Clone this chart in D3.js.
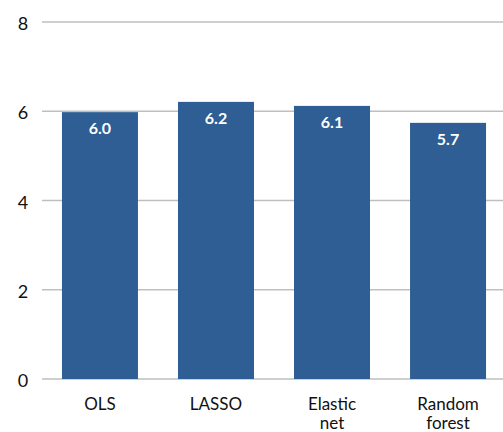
<!DOCTYPE html>
<html lang="en">
<head>
<meta charset="utf-8">
<title>Model comparison</title>
<script src="https://cdnjs.cloudflare.com/ajax/libs/d3/7.8.5/d3.min.js"></script>
<style>
  body { margin: 0; background: #fff; }
  svg { font-family: Lato, "Open Sans", sans-serif; }
</style>
</head>
<body>
<div id="chart"></div>
<script>
// data
var models = [["OLS"], ["LASSO"], ["Elastic", "net"], ["Random", "forest"]];
var values = [5.98, 6.21, 6.12, 5.74];
var valueLabels = ["6.0", "6.2", "6.1", "5.7"];
var yTicks = [0, 2, 4, 6, 8];

var width = 503, height = 432;

var svg = d3.select("#chart").append("svg")
    .attr("width", width)
    .attr("height", height);

var xScale = d3.scaleBand()
    .domain(d3.range(models.length))
    .range([42, 506])
    .paddingInner(0.345)
    .paddingOuter(0.172);

var yScale = d3.scaleLinear()
    .domain([0, 8])
    .range([379, 22]);

// gridlines
svg.append("g").selectAll("line")
    .data(yTicks)
    .enter().append("line")
    .attr("x1", 42)
    .attr("x2", width)
    .attr("y1", d => yScale(d))
    .attr("y2", d => yScale(d))
    .style("stroke", "#bfbfbf")
    .style("stroke-width", 1.5);

// y labels
svg.append("g").selectAll("text")
    .data(yTicks)
    .enter().append("text")
    .attr("x", 23)
    .attr("y", d => yScale(d) + 8)
    .attr("text-anchor", "middle")
    .style("font-size", "18px")
    .style("fill", "#111")
    .text(d => d);

// bars
svg.append("g").selectAll("rect")
    .data(values)
    .enter().append("rect")
    .attr("x", (d, i) => xScale(i))
    .attr("y", d => yScale(d))
    .attr("width", xScale.bandwidth())
    .attr("height", d => yScale(0) - yScale(d))
    .style("fill", "#2e5e93");

// value labels
svg.append("g").selectAll("text")
    .data(values)
    .enter().append("text")
    .attr("x", (d, i) => xScale(i) + xScale.bandwidth() / 2)
    .attr("y", d => yScale(d) + 22)
    .attr("text-anchor", "middle")
    .style("font-size", "16px")
    .style("font-weight", "bold")
    .style("fill", "#fff")
    .text((d, i) => valueLabels[i]);

// category labels
var cats = svg.append("g").selectAll("text")
    .data(models)
    .enter().append("text")
    .attr("x", (d, i) => xScale(i) + xScale.bandwidth() / 2)
    .attr("y", 410)
    .attr("text-anchor", "middle")
    .style("font-size", "17px")
    .style("fill", "#111");

cats.selectAll("tspan")
    .data(d => d)
    .enter().append("tspan")
    .attr("x", function() { return d3.select(this.parentNode).attr("x"); })
    .attr("dy", (d, i) => i == 0 ? 0 : 19)
    .text(d => d);
</script>
</body>
</html>
